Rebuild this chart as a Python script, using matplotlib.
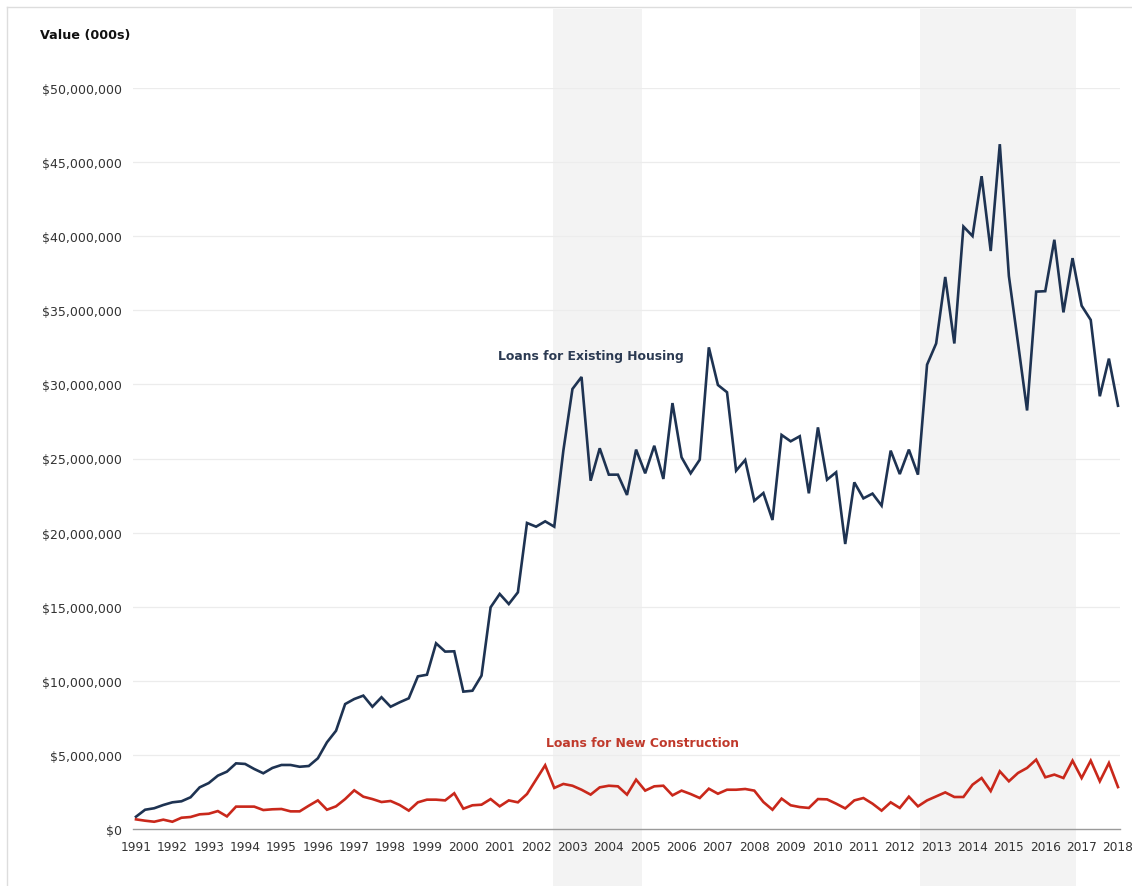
import matplotlib
matplotlib.use("Agg")
import matplotlib.pyplot as plt
from matplotlib.ticker import FuncFormatter
from matplotlib.lines import Line2D

# ---- data (values in millions of $000s, quarterly 1991 Q1 .. 2018 Q1) ----
start_year = 1991
existing_housing = [
    0.83, 1.30, 1.40, 1.62, 1.80, 1.87, 2.14, 2.81, 3.10, 3.60,
    3.87, 4.43, 4.39, 4.05, 3.76, 4.12, 4.32, 4.32, 4.20, 4.25,
    4.77, 5.85, 6.63, 8.43, 8.77, 9.00, 8.25, 8.89, 8.25, 8.55,
    8.82, 10.30, 10.41, 12.53, 11.97, 11.99, 9.27, 9.33, 10.35, 14.96,
    15.86, 15.18, 15.97, 20.65, 20.40, 20.76, 20.40, 25.53, 29.69, 30.50,
    23.50, 25.69, 23.91, 23.91, 22.54, 25.60, 24.00, 25.86, 23.62, 28.74,
    25.08, 24.00, 24.92, 32.50, 29.96, 29.47, 24.18, 24.90, 22.15, 22.67,
    20.85, 26.59, 26.16, 26.50, 22.65, 27.10, 23.57, 24.07, 19.23, 23.39,
    22.31, 22.63, 21.82, 25.53, 23.95, 25.60, 23.91, 31.33, 32.76, 37.25,
    32.76, 40.65, 40.01, 44.05, 39.00, 46.21, 37.31, 32.80, 28.24, 36.26,
    36.29, 39.76, 34.86, 38.52, 35.31, 34.35, 29.20, 31.74, 28.56,
]
new_construction = [
    0.65, 0.56, 0.49, 0.63, 0.49, 0.76, 0.81, 0.99, 1.03, 1.21,
    0.85, 1.51, 1.51, 1.51, 1.28, 1.33, 1.35, 1.19, 1.19, 1.57,
    1.93, 1.30, 1.53, 2.02, 2.61, 2.18, 2.02, 1.82, 1.89, 1.62,
    1.24, 1.80, 1.98, 1.98, 1.93, 2.41, 1.37, 1.60, 1.64, 2.02,
    1.53, 1.93, 1.80, 2.36, 3.33, 4.30, 2.77, 3.04, 2.92, 2.65,
    2.32, 2.81, 2.92, 2.88, 2.32, 3.33, 2.59, 2.88, 2.92, 2.27,
    2.59, 2.36, 2.09, 2.72, 2.38, 2.65, 2.65, 2.70, 2.59, 1.82,
    1.30, 2.05, 1.60, 1.48, 1.42, 2.02, 2.00, 1.71, 1.39, 1.93,
    2.09, 1.71, 1.24, 1.80, 1.42, 2.18, 1.53, 1.93, 2.20, 2.47,
    2.16, 2.16, 2.99, 3.44, 2.56, 3.89, 3.22, 3.78, 4.12, 4.68,
    3.49, 3.67, 3.44, 4.61, 3.44, 4.61, 3.22, 4.45, 2.83,
]
x_years = [start_year + i / 4 for i in range(len(existing_housing))]
year_ticks = list(range(1991, 2019))
y_ticks = [0, 5, 10, 15, 20, 25, 30, 35, 40, 45, 50]
shaded_periods = [(2002.47, 2004.90), (2012.56, 2016.85)]

blue = "#1e3352"
red = "#c9281b"

W, H = 1132, 887
fig = plt.figure(figsize=(W / 100, H / 100), dpi=100)
ax = fig.add_axes([133 / W, (H - 830) / H, (1120 - 133) / W, (830 - 89) / H])

ax.set_xlim(1990.9175, 2018.055)
ax.set_ylim(0, 50)

# shaded bands extending over the full figure height
for x0, x1 in shaded_periods:
    ax.axvspan(x0, x1, ymin=-0.077, ymax=1.107, color="#f3f3f3", zorder=0,
               clip_on=False, lw=0)

for v in y_ticks[1:]:
    ax.axhline(v, color="#ececec", lw=0.9, zorder=1)

ax.plot(x_years, existing_housing, color=blue, lw=1.9, zorder=3,
        solid_joinstyle="miter")
ax.plot(x_years, new_construction, color=red, lw=1.9, zorder=3,
        solid_joinstyle="miter")

for s in ["top", "right", "left"]:
    ax.spines[s].set_visible(False)
ax.spines["bottom"].set_color("#9a9a9a")
ax.spines["bottom"].set_linewidth(1.0)
ax.set_facecolor("none")

ax.set_yticks(y_ticks)
ax.yaxis.set_major_formatter(FuncFormatter(
    lambda v, p: "$0" if v == 0 else "${:,.0f}".format(v * 1_000_000)))
ax.set_xticks(year_ticks)
ax.set_xticklabels([str(y) for y in year_ticks])
ax.tick_params(axis="y", length=0, pad=8, labelsize=9.0, labelcolor="#333333")
ax.tick_params(axis="x", length=0, pad=8, labelsize=8.7, labelcolor="#333333")

ax.text(2000.95, 31.98, "Loans for Existing Housing", color="#2b3a52",
        fontsize=8.9, fontweight="bold", ha="left", va="center", zorder=4)
ax.text(2002.27, 5.87, "Loans for New Construction", color="#c0392b",
        fontsize=8.9, fontweight="bold", ha="left", va="center", zorder=4)

fig.text(40 / W, 1 - 36 / H, "Value (000s)", fontsize=9.2, fontweight="bold",
         color="#111111", ha="left", va="center")

# light frame lines (top and left)
fig.add_artist(Line2D([7 / W, 1.0], [1 - 8 / H, 1 - 8 / H],
                      transform=fig.transFigure, color="#dddddd", lw=1))
fig.add_artist(Line2D([7 / W, 7 / W], [0, 1 - 8 / H],
                      transform=fig.transFigure, color="#dddddd", lw=1))

fig.savefig("out.png", dpi=100)
